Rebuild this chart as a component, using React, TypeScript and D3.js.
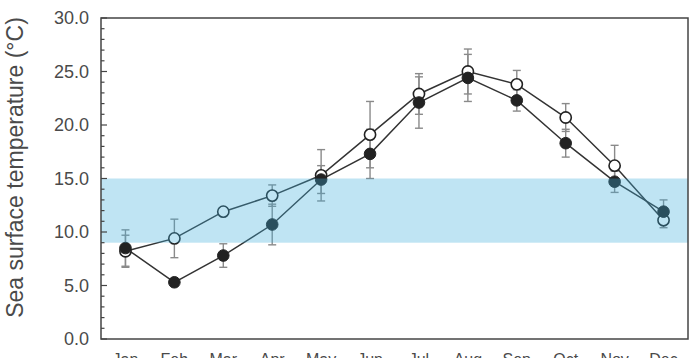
import React from "react";
import * as d3 from "d3";

const months = ["Jan", "Feb", "Mar", "Apr", "May", "Jun", "Jul", "Aug", "Sep", "Oct", "Nov", "Dec"];
const filledValues = [8.5, 5.3, 7.8, 10.7, 14.9, 17.3, 22.1, 24.4, 22.3, 18.3, 14.7, 11.9];
const filledErrors = [1.7, 0.3, 1.1, 1.9, 1.3, 2.3, 2.4, 2.2, 1.0, 1.3, 1.0, 1.1];
const openValues = [8.2, 9.4, 11.9, 13.4, 15.3, 19.1, 22.9, 25.0, 23.8, 20.7, 16.2, 11.1];
const openErrors = [1.5, 1.8, 0.3, 1.0, 2.4, 3.1, 1.9, 2.1, 1.3, 1.3, 1.9, 0.7];
const yTicks = [0, 5, 10, 15, 20, 25, 30];
const minorTicks = d3.range(0, 31, 1);
const bandRange = [9, 15];

const W = 698;
const H = 358;
const left = 101;
const right = 688;
const top = 18;
const bottom = 339;

export default function App() {
  const x = d3.scaleBand<string>().domain(months).range([left, right]);
  const y = d3.scaleLinear().domain([0, 30]).range([bottom, top]);
  const cx = (m: string) => (x(m) as number) + x.bandwidth() / 2;
  const line = d3
    .line<number>()
    .x((_, i) => cx(months[i]))
    .y((d) => y(d));
  const font = "Liberation Sans, Arial, sans-serif";

  const errBars = (vals: number[], errs: number[], key: string) =>
    vals.map((v, i) => {
      const px = cx(months[i]);
      const y1 = y(v + errs[i]);
      const y2 = y(v - errs[i]);
      return (
        <g key={key + i} stroke="#8a8a8a" strokeWidth={1.4}>
          <line x1={px} x2={px} y1={y1} y2={y2} />
          <line x1={px - 4} x2={px + 4} y1={y1} y2={y1} />
          <line x1={px - 4} x2={px + 4} y1={y2} y2={y2} />
        </g>
      );
    });

  return (
    <svg width={W} height={H} style={{ position: "absolute", left: 0, top: 0 }}>
      <rect x={0} y={0} width={W} height={H} fill="#fff" />
      {errBars(filledValues, filledErrors, "f")}
      {errBars(openValues, openErrors, "o")}
      <path d={line(filledValues) || ""} fill="none" stroke="#333" strokeWidth={1.5} />
      <path d={line(openValues) || ""} fill="none" stroke="#333" strokeWidth={1.5} />
      {openValues.map((v, i) => (
        <circle key={"oc" + i} cx={cx(months[i])} cy={y(v)} r={5.6} fill="#fff" stroke="#222" strokeWidth={1.6} />
      ))}
      {filledValues.map((v, i) => (
        <circle key={"fc" + i} cx={cx(months[i])} cy={y(v)} r={5.8} fill="#222" stroke="#222" strokeWidth={1} />
      ))}
      <rect
        x={left}
        y={y(bandRange[1])}
        width={right - left}
        height={y(bandRange[0]) - y(bandRange[1])}
        fill="rgb(60,173,218)"
        fillOpacity={0.33}
      />
      <rect x={left} y={top} width={right - left} height={bottom - top} fill="none" stroke="#444" strokeWidth={1.5} />
      {minorTicks.map((t) => (
        <line
          key={"mt" + t}
          x1={left}
          x2={left + (t % 5 === 0 ? 6 : 3.5)}
          y1={y(t)}
          y2={y(t)}
          stroke="#444"
          strokeWidth={1.2}
        />
      ))}
      {yTicks.map((t) => (
        <text
          key={"yl" + t}
          x={89}
          y={y(t)}
          dy="0.35em"
          textAnchor="end"
          fontFamily={font}
          fontSize={18}
          fill="#4a4a4a"
        >
          {t.toFixed(1)}
        </text>
      ))}
      {months.map((m) => (
        <text key={"xl" + m} x={cx(m)} y={365} textAnchor="middle" fontFamily={font} fontSize={16} fill="#4a4a4a">
          {m}
        </text>
      ))}
      <text
        transform={`translate(23,${(top + bottom) / 2 - 11}) rotate(-90)`}
        textAnchor="middle"
        fontFamily={font}
        fontSize={23}
        fill="#4a4a4a"
      >
        Sea surface temperature (°C)
      </text>
    </svg>
  );
}
